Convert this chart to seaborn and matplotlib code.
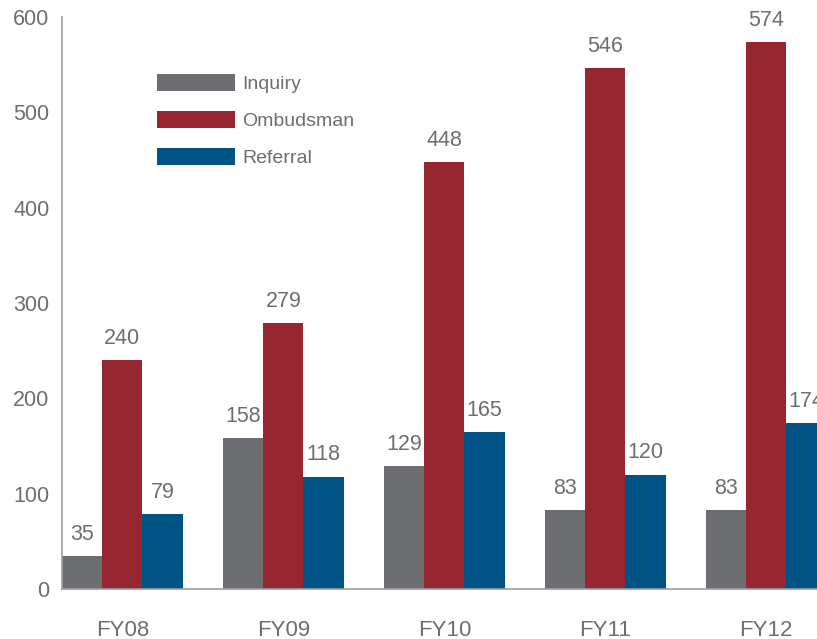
import matplotlib.pyplot as plt
import seaborn as sns
import pandas as pd

years = ["FY08", "FY09", "FY10", "FY11", "FY12"]
inquiry = [35, 158, 129, 83, 83]
ombudsman = [240, 279, 448, 546, 574]
referral = [79, 118, 165, 120, 174]
series = ["Inquiry", "Ombudsman", "Referral"]

df = pd.DataFrame({
    "year": years * 3,
    "count": inquiry + ombudsman + referral,
    "type": [s for s in series for _ in years],
})

colors = ["#6d6e71", "#96262f", "#005384"]
text_color = "#6d6e71"

sns.set_style("white")
plt.rcParams["font.family"] = ["Liberation Sans", "DejaVu Sans"]

f = plt.figure(figsize=(8.17, 6.39), dpi=100)
ax = f.add_axes([62 / 817, 50 / 639, 1 - 62 / 817, 572 / 639])

sns.barplot(data=df, x="year", y="count", hue="type",
            palette=colors, width=0.75, gap=0, saturation=1,
            linewidth=0, legend=False, ax=ax)

for c in ax.containers:
    ax.bar_label(c, fmt="{:.0f}", padding=8, fontsize=15.5, color=text_color)

# Legend
handles = [plt.Rectangle((0, 0), 1, 1, color=col, linewidth=0) for col in colors]
ax.legend(handles, series, loc="upper left",
          bbox_to_anchor=(157 / 817, 1 - 74 / 639), bbox_transform=f.transFigure,
          frameon=False, fontsize=14, labelcolor=text_color,
          handlelength=4.0, handleheight=0.95, handletextpad=0.4,
          labelspacing=0.93, borderpad=0, borderaxespad=0)

ax.set_ylim(0, 600)
ax.set_xlim(-0.375, 4.315)
ax.set_yticks(range(0, 601, 100))
ax.tick_params(axis="y", length=0, pad=9, labelsize=15.5, labelcolor=text_color)
ax.tick_params(axis="x", length=0, pad=22, labelsize=16, labelcolor=text_color)
ax.set_xlabel("")
ax.set_ylabel("")
ax.spines[["right", "top"]].set_visible(False)
ax.spines[["left", "bottom"]].set_color("#9d9ea1")
ax.spines[["left", "bottom"]].set_linewidth(1.2)

plt.savefig("out.png")
